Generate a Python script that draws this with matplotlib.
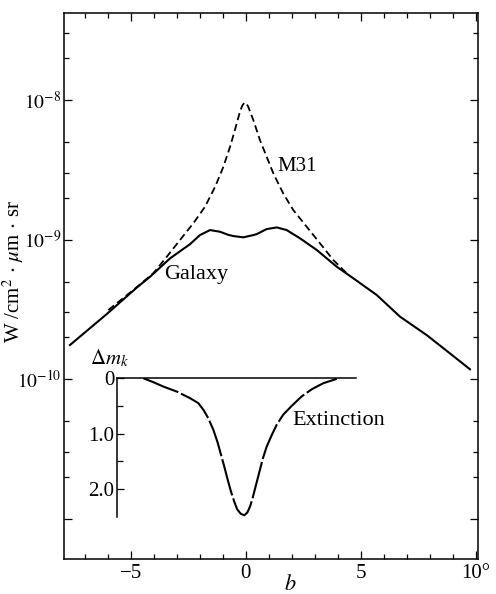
import numpy as np
import matplotlib.pyplot as plt
from matplotlib.ticker import FixedLocator, NullFormatter

plt.rcParams['font.family'] = ['Liberation Serif', 'DejaVu Serif']
plt.rcParams['mathtext.fontset'] = 'stix'

# galactic latitude b (deg) and log10 surface brightness (W/cm^2/um/sr)
gal_b = [-7.64, -6.04, -4.74, -4.16, -3.29, -2.42, -1.99, -1.84, -1.55, -1.12, -0.76,
         -0.54, -0.10, 0.33, 0.48, 0.91, 1.35, 1.78, 2.36, 3.09, 3.96, 4.68, 5.70,
         6.71, 7.87, 8.88, 9.75]
gal_log = [-9.756, -9.534, -9.345, -9.267, -9.135, -9.033, -8.968, -8.956, -8.932, -8.944,
           -8.966, -8.975, -8.984, -8.968, -8.961, -8.925, -8.913, -8.932, -8.991, -9.075,
           -9.195, -9.278, -9.398, -9.553, -9.685, -9.816, -9.930]

m31_b = [-5.97, -4.89, -4.02, -3.43, -2.86, -2.28, -1.77, -1.33, -0.97, -0.68, -0.47,
         -0.25, -0.15, -0.06, 0.02, 0.11, 0.33, 0.62, 0.91, 1.20, 1.63, 2.07, 2.65,
         3.23, 3.81, 4.39]
m31_log = [-9.505, -9.362, -9.242, -9.123, -9.004, -8.884, -8.765, -8.622, -8.478, -8.335,
           -8.215, -8.084, -8.040, -8.019, -8.022, -8.048, -8.143, -8.287, -8.406, -8.525,
           -8.669, -8.789, -8.908, -9.027, -9.147, -9.242]

# extinction in K band
ext_b = [-4.45, -4.02, -3.58, -3.00, -2.42, -2.06, -1.84, -1.63, -1.41, -1.23, -1.09,
         -0.93, -0.78, -0.64, -0.50, -0.37, -0.22, -0.06, 0.07, 0.19, 0.30, 0.43,
         0.58, 0.74, 0.91, 1.13, 1.35, 1.63, 2.00, 2.43, 2.87, 3.37, 3.96]
ext_dm = [0.00, 0.07, 0.15, 0.24, 0.36, 0.45, 0.57, 0.72, 0.93, 1.15, 1.36,
          1.60, 1.84, 2.05, 2.23, 2.37, 2.45, 2.48, 2.43, 2.32, 2.17, 1.96,
          1.72, 1.46, 1.24, 1.03, 0.84, 0.66, 0.50, 0.33, 0.20, 0.09, 0.01]

fig = plt.figure(figsize=(4.96, 5.94), dpi=100)
ax = fig.add_axes([64/496, 1-559/594, 414/496, 546/594])

ax.plot(gal_b, 10**np.array(gal_log), color='k', lw=1.5)
ax.plot(m31_b, 10**np.array(m31_log), color='k', lw=1.3, dashes=(4, 2.2))

ax.set_yscale('log')
ax.set_xlim(-7.9, 10.1)
ax.set_ylim(10**-11.29, 10**-7.376)

ax.xaxis.set_major_locator(FixedLocator([-5, 0, 5, 10]))
ax.xaxis.set_minor_locator(FixedLocator([i for i in range(-7, 10) if i % 5]))
ax.set_xticklabels(['\u22125', '0', '5', '10\u00b0'])

ax.yaxis.set_major_locator(FixedLocator([1e-11, 1e-10, 1e-9, 1e-8]))
ax.set_yticklabels(['', r'$10^{-10}$', r'$10^{-9}$', r'$10^{-8}$'])
minors = [m * 10.0**e for e in range(-12, -7) for m in (2, 3, 5)]
ax.yaxis.set_minor_locator(FixedLocator(minors))
ax.yaxis.set_minor_formatter(NullFormatter())

ax.tick_params(which='both', direction='in', top=True, right=True, labelsize=15, width=0.9)
ax.tick_params(axis='y', labelsize=14, pad=2)
ax.tick_params(which='major', length=6)
ax.tick_params(which='minor', length=3.5)
for s in ax.spines.values():
    s.set_linewidth(1.1)

ax.set_ylabel(r'W /cm$^2\,\cdot\,\mu$m$\,\cdot\,$sr', fontsize=15)
ax.yaxis.set_label_coords(-0.092, 0.526)
ax.set_xlabel(r'$b$', fontsize=16)
ax.xaxis.set_label_coords(0.546, -0.03)

ax.text(2.23, 10**-8.477, 'M31', fontsize=15, ha='center', va='center')
ax.text(-2.14, 10**-9.247, 'Galaxy', fontsize=16, ha='center', va='center')

# extinction inset, sharing the b scale
ax_in = fig.add_axes([117/496, 1-517/594, 239/496, 138.7/594])
ax_in.patch.set_visible(False)
ax_in.plot(ext_b, ext_dm, color='k', lw=1.5, dashes=(18, 1.5))
ax_in.set_xlim(-5.6, 4.8)
ax_in.set_ylim(2.51, 0)
ax_in.spines['right'].set_visible(False)
ax_in.spines['bottom'].set_visible(False)
ax_in.spines['left'].set_linewidth(1.1)
ax_in.spines['top'].set_linewidth(1.1)
ax_in.set_xticks([])
ax_in.yaxis.set_major_locator(FixedLocator([0, 1, 2]))
ax_in.set_yticklabels(['0', '1.0', '2.0'])
ax_in.yaxis.set_minor_locator(FixedLocator([0.5, 1.5]))
ax_in.tick_params(which='both', direction='in', labelsize=15, width=0.9, pad=2)
ax_in.tick_params(which='major', length=5)
ax_in.tick_params(which='minor', length=4)
ax_in.text(-0.03, 1.145, r'$\mathit{\Delta} m_k$', transform=ax_in.transAxes,
           fontsize=15, ha='center', va='center')
ax_in.text(4.06, 0.76, 'Extinction', fontsize=16, ha='center', va='center')

fig.savefig('out.png', dpi=100)
